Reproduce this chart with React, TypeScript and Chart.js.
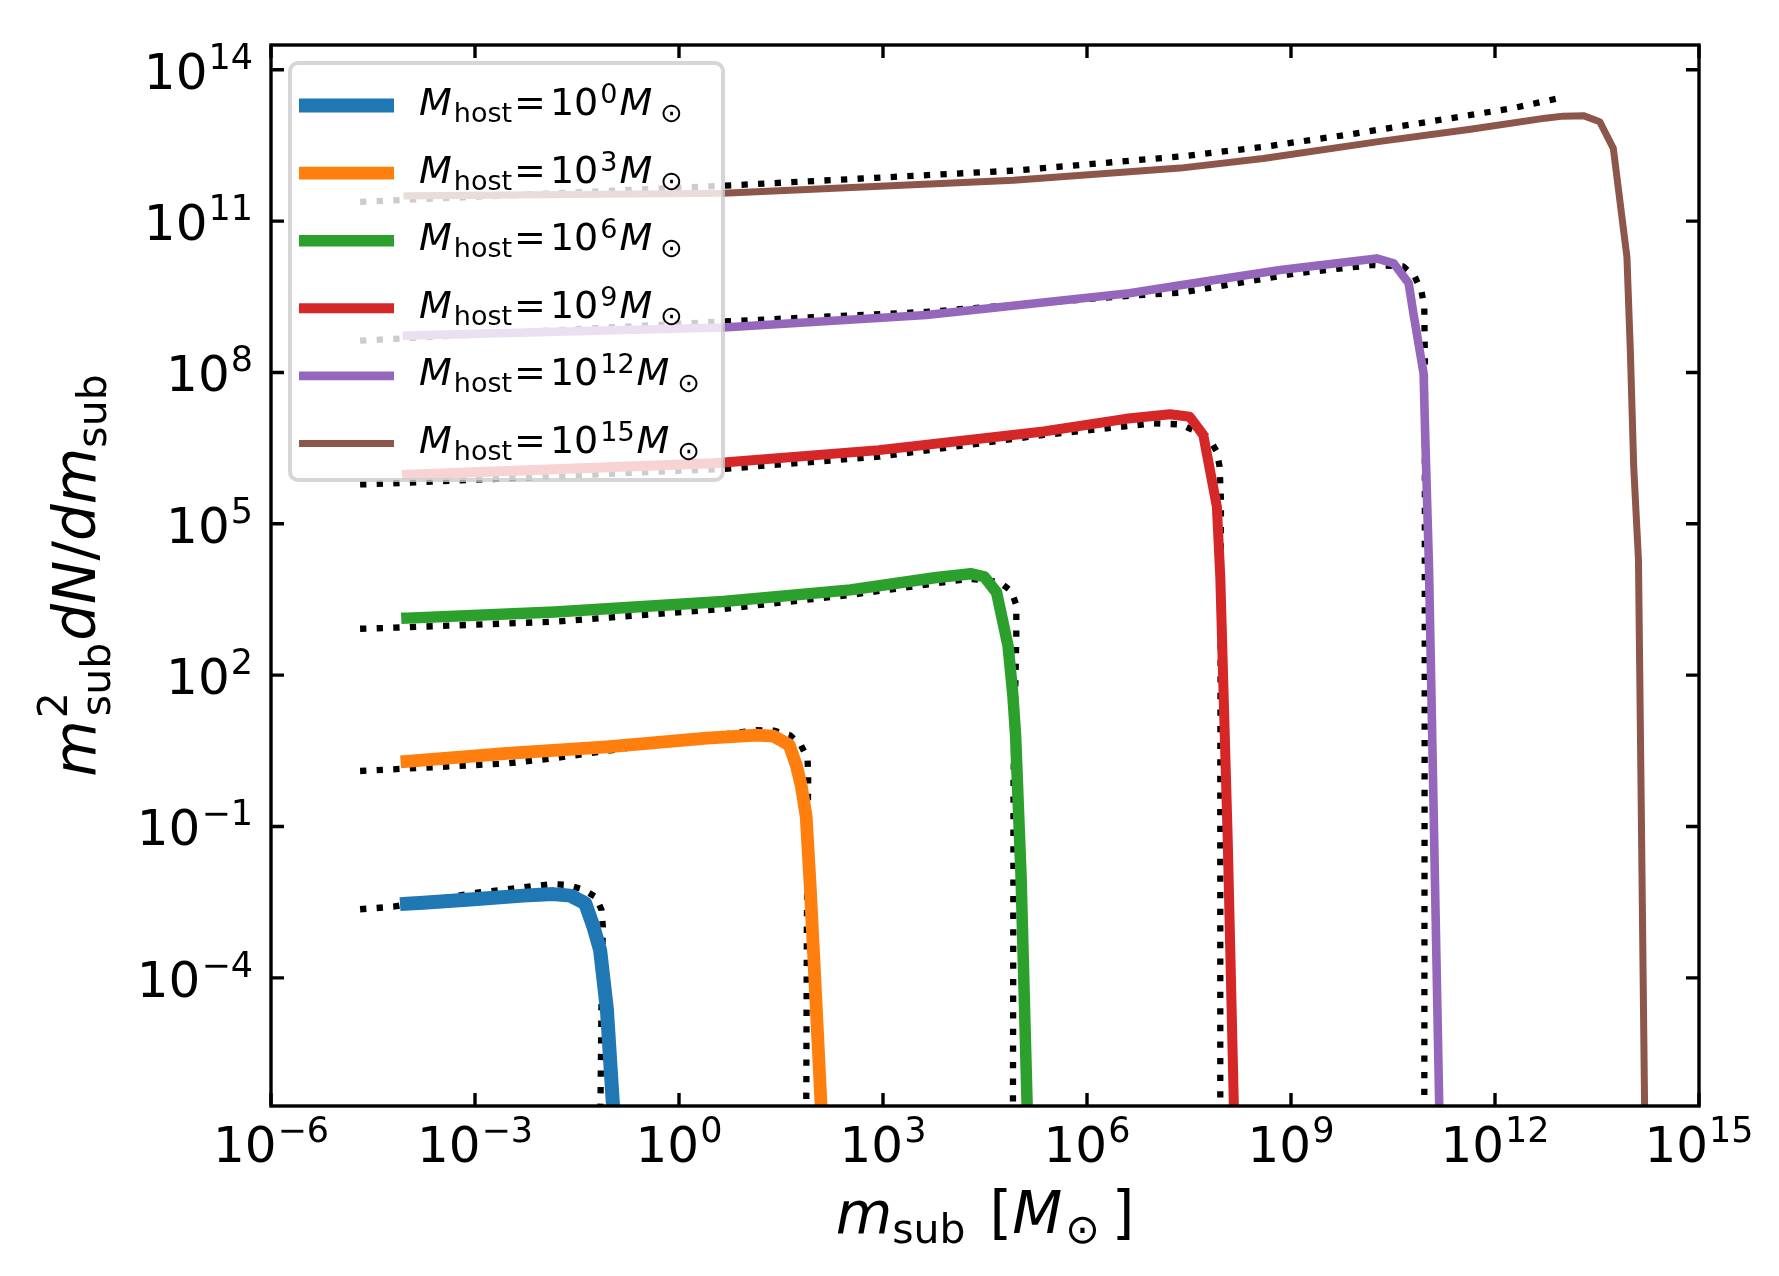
import { useEffect, useRef } from 'react';
import { Chart, registerables } from 'chart.js';

Chart.register(...registerables);

// all values are log10: x = m_sub [Msun], y = m_sub^2 dN/dm_sub
const hostExps = ['0', '3', '6', '9', '12', '15'];
const colors = ['#1f77b4', '#ff7f0e', '#2ca02c', '#d62728', '#9467bd', '#8c564b'];
const lineWidths = [14, 12.8, 11.5, 10, 8.6, 7];

const solid0X = [-4.0, -3.76, -3.02, -2.29, -1.85, -1.6, -1.38, -1.26, -1.16, -1.06, -0.97, -0.95];
const solid0Y = [-2.53, -2.51, -2.44, -2.37, -2.34, -2.37, -2.52, -2.98, -3.45, -4.63, -6.55, -7.2];
const solid1X = [-4.0, -2.53, -1.06, 0.41, 1.14, 1.39, 1.62, 1.73, 1.8, 1.87, 1.93, 2.0, 2.09, 2.12];
const solid1Y = [0.29, 0.45, 0.58, 0.75, 0.81, 0.79, 0.62, 0.19, -0.21, -0.8, -2.2, -4.08, -6.55, -7.2];
const solid2X = [-4.0, -1.83, 0.65, 2.52, 3.76, 4.29, 4.49, 4.67, 4.84, 4.91, 4.95, 5.03, 5.12, 5.14];
const solid2Y = [3.13, 3.25, 3.46, 3.69, 3.93, 4.01, 3.95, 3.64, 2.57, 1.6, 0.8, -1.98, -6.55, -7.2];
const solid3X = [-4.0, 0.52, 2.94, 5.36, 6.57, 7.22, 7.51, 7.71, 7.91, 7.96, 8.07, 8.16, 8.18];
const solid3Y = [5.97, 6.2, 6.46, 6.83, 7.08, 7.17, 7.12, 6.76, 5.34, 3.95, -1.29, -6.55, -7.2];
const solid4X = [-4.0, 0.65, 3.64, 6.62, 7.37, 8.84, 10.26, 10.51, 10.73, 10.8, 10.95, 10.97, 11.03, 11.18, 11.2];
const solid4Y = [8.73, 8.89, 9.14, 9.57, 9.73, 10.03, 10.26, 10.16, 9.77, 9.17, 7.98, 6.93, 4.1, -6.55, -7.2];
const solid5X = [-4.0, 0.65, 4.92, 7.37, 8.59, 10.31, 11.64, 12.74, 13.0, 13.3, 13.54, 13.74, 13.94, 13.99, 14.04, 14.11, 14.2, 14.22];
const solid5Y = [11.5, 11.55, 11.81, 12.05, 12.24, 12.58, 12.82, 13.04, 13.08, 13.09, 12.97, 12.44, 10.29, 8.44, 6.13, 4.28, -6.55, -7.2];

const dotted0X = [-4.69, -4.2, -3.02, -1.87, -1.63, -1.41, -1.22, -1.14, -1.12, -1.14, -1.16];
const dotted0Y = [-2.64, -2.59, -2.32, -2.14, -2.16, -2.25, -2.4, -2.65, -2.98, -4.5, -7.2];
const dotted1X = [-4.69, -2.53, -1.85, 0.41, 1.14, 1.39, 1.63, 1.79, 1.89, 1.9, 1.88, 1.87];
const dotted1Y = [0.1, 0.25, 0.35, 0.78, 0.91, 0.9, 0.81, 0.62, 0.35, 0.02, -3.0, -7.2];
const dotted2X = [-4.69, -4.19, -1.83, 0.65, 2.52, 4.27, 4.71, 4.89, 4.96, 4.96, 4.92, 4.91];
const dotted2Y = [2.92, 2.94, 3.06, 3.31, 3.59, 3.91, 3.85, 3.66, 3.39, 2.74, 0.0, -7.2];
const dotted3X = [-4.69, -4.23, 0.68, 2.94, 5.36, 6.98, 7.38, 7.78, 7.91, 7.95, 7.97, 7.96, 7.96];
const dotted3Y = [5.78, 5.8, 6.09, 6.33, 6.76, 6.99, 6.97, 6.72, 6.43, 6.13, 5.47, 0.0, -7.2];
const dotted4X = [-4.69, 0.65, 3.64, 6.62, 7.37, 9.11, 10.21, 10.65, 10.82, 10.92, 10.96, 10.97, 10.96];
const dotted4Y = [8.63, 9.01, 9.2, 9.52, 9.58, 9.97, 10.13, 10.1, 9.9, 9.6, 9.3, 8.11, -7.2];
const dotted5X = [-4.69, 0.65, 4.92, 7.37, 8.59, 9.82, 11.03, 12.27, 12.92];
const dotted5Y = [11.38, 11.7, 12.0, 12.28, 12.47, 12.71, 12.97, 13.24, 13.43];

const xTickExps = [-6, -3, 0, 3, 6, 9, 12, 15];
const yTickExps = [-4, -1, 2, 5, 8, 11, 14];
const xRange = [-6, 15];
const yRange = [-6.54, 14.49];

const solidX = [solid0X, solid1X, solid2X, solid3X, solid4X, solid5X];
const solidY = [solid0Y, solid1Y, solid2Y, solid3Y, solid4Y, solid5Y];
const dottedX = [dotted0X, dotted1X, dotted2X, dotted3X, dotted4X, dotted5X];
const dottedY = [dotted0Y, dotted1Y, dotted2Y, dotted3Y, dotted4Y, dotted5Y];

const FONT = '"DejaVu Sans", sans-serif';

type Seg = { t: string; size: number; it?: boolean; dy?: number; dx?: number; stack?: boolean };

function segFont(s: Seg) {
    return `${s.it ? 'italic ' : ''}${s.size}px ${FONT}`;
}

function richWidth(ctx: CanvasRenderingContext2D, segs: Seg[]) {
    let w = 0;
    for (const s of segs) {
        ctx.font = segFont(s);
        w += (s.dx ?? 0) + (s.stack ? 0 : ctx.measureText(s.t).width);
    }
    return w;
}

function drawRich(ctx: CanvasRenderingContext2D, segs: Seg[], x: number, y: number, align: 'left' | 'center' | 'right') {
    const w = richWidth(ctx, segs);
    let cx = align === 'left' ? x : align === 'center' ? x - w / 2 : x - w;
    ctx.textAlign = 'left';
    ctx.textBaseline = 'alphabetic';
    for (const s of segs) {
        ctx.font = segFont(s);
        cx += s.dx ?? 0;
        ctx.fillText(s.t, cx, y + (s.dy ?? 0));
        if (!s.stack) cx += ctx.measureText(s.t).width;
    }
}

function expText(e: number) {
    return e < 0 ? '\u2212' + Math.abs(e) : String(e);
}

function pts(xs: number[], ys: number[]) {
    return xs.map((x, i) => ({ x: 10 ** x, y: 10 ** ys[i] }));
}

const decorations = {
    id: 'decorations',
    afterDatasetsDraw(chart: Chart) {
        const { ctx, chartArea: a } = chart;
        const xs = chart.scales.x;
        const ys = chart.scales.y;
        ctx.save();

        // inward ticks on all four sides + frame
        ctx.strokeStyle = '#000';
        ctx.lineWidth = 3.4;
        ctx.beginPath();
        for (const e of xTickExps) {
            const px = xs.getPixelForValue(10 ** e);
            ctx.moveTo(px, a.bottom); ctx.lineTo(px, a.bottom - 13);
            ctx.moveTo(px, a.top); ctx.lineTo(px, a.top + 13);
        }
        for (const e of yTickExps) {
            const py = ys.getPixelForValue(10 ** e);
            ctx.moveTo(a.left, py); ctx.lineTo(a.left + 13, py);
            ctx.moveTo(a.right, py); ctx.lineTo(a.right - 13, py);
        }
        ctx.stroke();
        ctx.strokeRect(a.left, a.top, a.right - a.left, a.bottom - a.top);

        // tick labels
        ctx.fillStyle = '#000';
        for (const e of xTickExps) {
            const px = xs.getPixelForValue(10 ** e);
            drawRich(ctx, [{ t: '10', size: 50 }, { t: expText(e), size: 35, dy: -20, dx: 1 }], px, a.bottom + 56, 'center');
        }
        for (const e of yTickExps) {
            const py = ys.getPixelForValue(10 ** e);
            drawRich(ctx, [{ t: '10', size: 50 }, { t: expText(e), size: 35, dy: -20, dx: 1 }], a.left - 18, py + 19, 'right');
        }

        // axis titles
        const midX = (a.left + a.right) / 2;
        drawRich(ctx, [
            { t: 'm', size: 58, it: true },
            { t: 'sub', size: 41, dy: 10 },
            { t: '[', size: 58, dx: 24 },
            { t: 'M', size: 58, it: true },
            { t: '\u2299', size: 41, dy: 10, dx: 3 },
            { t: ']', size: 58, dx: 12 },
        ], midX, a.bottom + 127, 'center');

        ctx.save();
        ctx.translate(95, (a.top + a.bottom) / 2);
        ctx.rotate(-Math.PI / 2);
        drawRich(ctx, [
            { t: 'm', size: 58, it: true },
            { t: '2', size: 41, dy: -28, stack: true, dx: 2 },
            { t: 'sub', size: 41, dy: 15, dx: 2 },
            { t: 'dN', size: 58, it: true, dx: 2 },
            { t: '/', size: 58 },
            { t: 'dm', size: 58, it: true },
            { t: 'sub', size: 41, dy: 11 },
        ], 0, 0, 'center');
        ctx.restore();

        // legend
        ctx.beginPath();
        ctx.roundRect(290, 63, 433, 417, 8);
        ctx.fillStyle = 'rgba(255,255,255,0.8)';
        ctx.fill();
        ctx.strokeStyle = 'rgba(204,204,204,0.8)';
        ctx.lineWidth = 4;
        ctx.stroke();
        hostExps.forEach((h, i) => {
            const cy = 105.5 + 67.6 * i;
            ctx.strokeStyle = colors[i];
            ctx.lineWidth = lineWidths[i];
            ctx.lineCap = 'butt';
            ctx.beginPath();
            ctx.moveTo(299, cy);
            ctx.lineTo(394, cy);
            ctx.stroke();
            ctx.fillStyle = '#000';
            drawRich(ctx, [
                { t: 'M', size: 38, it: true },
                { t: 'host', size: 27, dy: 7, dx: 2 },
                { t: '=', size: 38, dx: 2 },
                { t: '10', size: 38, dx: 4 },
                { t: h, size: 27, dy: -12, dx: 2 },
                { t: 'M', size: 38, it: true, dx: 2 },
                { t: '\u2299', size: 27, dy: 7, dx: 8 },
            ], 419, cy + 9.5, 'left');
        });

        ctx.restore();
    },
};

export default function App() {
    const chartRef = useRef<HTMLCanvasElement>(null);
    const chartInstanceRef = useRef<Chart | null>(null);

    useEffect(() => {
        if (!chartRef.current) return;
        const ctx = chartRef.current.getContext('2d');
        if (!ctx) return;

        if (chartInstanceRef.current) {
            chartInstanceRef.current.destroy();
        }

        // solid curves first so they are drawn on top of the dotted ones
        const solidSets = solidX.map((xs, i) => ({
            label: `M_host=10^${hostExps[i]}`,
            data: pts(xs, solidY[i]),
            borderColor: colors[i],
            borderWidth: lineWidths[i],
            borderCapStyle: 'square' as const,
            borderJoinStyle: 'round' as const,
            pointRadius: 0,
            tension: 0,
            clip: 0,
        }));
        const dottedSets = dottedX.map((xs, i) => ({
            label: `fit ${hostExps[i]}`,
            data: pts(xs, dottedY[i]),
            borderColor: '#000000',
            borderWidth: 6.3,
            borderDash: [6.3, 10.3],
            borderCapStyle: 'butt' as const,
            borderJoinStyle: 'round' as const,
            pointRadius: 0,
            tension: 0,
            clip: 0,
        }));

        chartInstanceRef.current = new Chart(ctx, {
            type: 'line',
            data: { datasets: [...solidSets, ...dottedSets] },
            options: {
                animation: false,
                responsive: true,
                maintainAspectRatio: false,
                events: [],
                layout: { padding: { left: 0, right: 80, top: 45, bottom: 0 } },
                plugins: {
                    legend: { display: false },
                    tooltip: { enabled: false },
                },
                scales: {
                    x: {
                        type: 'logarithmic',
                        min: 10 ** xRange[0],
                        max: 10 ** xRange[1],
                        ticks: { display: false },
                        grid: { display: false },
                        border: { display: false },
                        afterBuildTicks: (s: any) => { s.ticks = xTickExps.map(e => ({ value: 10 ** e })); },
                        afterFit: (s: any) => { s.height = 170; },
                    },
                    y: {
                        type: 'logarithmic',
                        min: 10 ** yRange[0],
                        max: 10 ** yRange[1],
                        ticks: { display: false },
                        grid: { display: false },
                        border: { display: false },
                        afterBuildTicks: (s: any) => { s.ticks = yTickExps.map(e => ({ value: 10 ** e })); },
                        afterFit: (s: any) => { s.width = 271; },
                    },
                },
            },
            plugins: [decorations],
        });

        return () => {
            if (chartInstanceRef.current) {
                chartInstanceRef.current.destroy();
                chartInstanceRef.current = null;
            }
        };
    }, []);

    return (
        <div style={{ position: 'absolute', left: 0, top: 0, width: 1779, height: 1276, background: '#ffffff' }}>
            <canvas ref={chartRef}></canvas>
        </div>
    );
}
